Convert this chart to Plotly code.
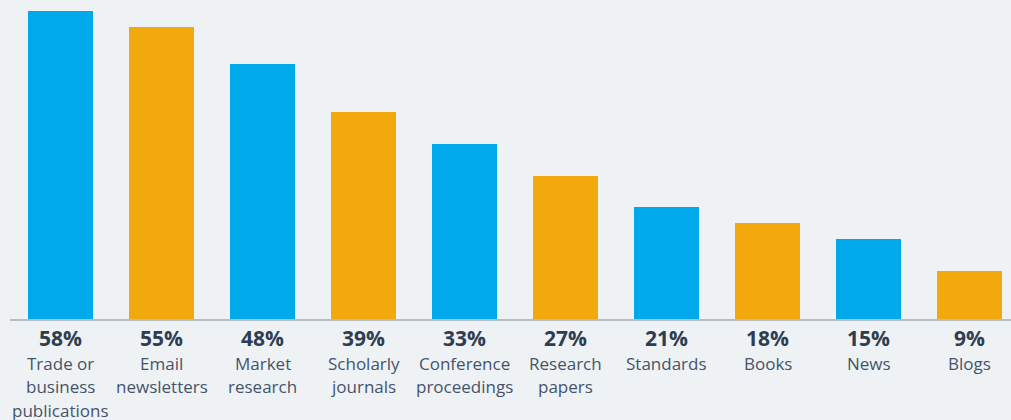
import plotly.graph_objects as go

categories = ["Trade or<br>business<br>publications", "Email<br>newsletters", "Market<br>research",
              "Scholarly<br>journals", "Conference<br>proceedings", "Research<br>papers",
              "Standards", "Books", "News", "Blogs"]
values = [58, 55, 48, 39, 33, 27, 21, 18, 15, 9]
colors = ["#00a9ea", "#f2a90e"] * 5

x = list(range(len(values)))
fig = go.Figure(go.Bar(x=x, y=values, marker=dict(color=colors, line=dict(width=0)),
                       width=0.644, hoverinfo="skip"))

ann = []
for i, (c, v) in enumerate(zip(categories, values)):
    ann.append(dict(x=i, y=0, xref="x", yref="paper", text=f"<b>{v}%</b>", showarrow=False,
                    yanchor="middle", yshift=-19,
                    font=dict(family="Open Sans", size=21, color="#2e3d4f")))
    for j, line in enumerate(c.split("<br>")):
        ann.append(dict(x=i, y=0, xref="x", yref="paper", text=line, showarrow=False,
                        yanchor="middle", yshift=-44 - 23.5 * j,
                        font=dict(family="Open Sans", size=17, color="#45546a")))

fig.update_layout(
    width=1011, height=420,
    margin=dict(l=10, r=0, t=0, b=101),
    paper_bgcolor="#eef2f5", plot_bgcolor="#eef2f5",
    showlegend=False,
    bargap=0,
    xaxis=dict(range=[-0.5, 9.41], showgrid=False, zeroline=False, showticklabels=False,
               showline=True, linecolor="#b4bcc4", linewidth=2, ticks=""),
    yaxis=dict(range=[0, 60.07], showgrid=False, zeroline=False, showticklabels=False,
               showline=False, ticks=""),
    annotations=ann,
)
fig.write_html("out.html", config={"displayModeBar": False},
               post_script="document.body.style.margin='0';document.body.style.background='#eef2f5';")
